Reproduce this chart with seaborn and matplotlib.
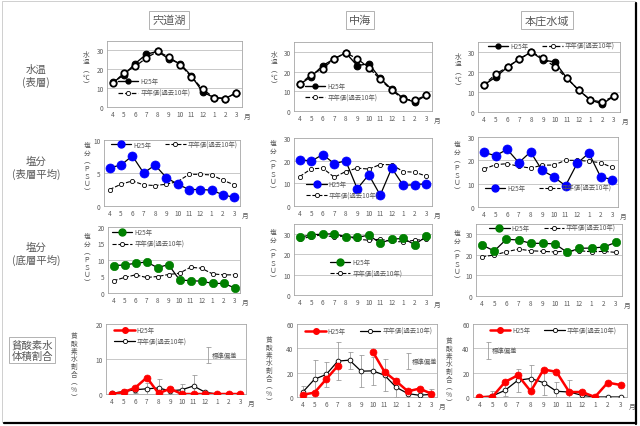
import numpy as np
import pandas as pd
import matplotlib
matplotlib.use('Agg')
import matplotlib.pyplot as plt
import seaborn as sns
from matplotlib.lines import Line2D
from matplotlib.patches import Rectangle

sns.set_theme(style='white')
plt.rcParams['font.family'] = ['Noto Sans CJK JP', 'DejaVu Sans']

# ---------------- data ----------------
months = ['4', '5', '6', '7', '8', '9', '10', '11', '12', '1', '2', '3']
areas = ['宍道湖', '中海', '本庄水域']
label_h25 = 'H25年'
label_avg = '平年値(過去10年)'

# water temperature (surface), deg C
temp_h25_shinji = [13, 17, 23, 28, 29.5, 25.5, 23, 16.5, 8, 5, 4.5, 7.5]
temp_avg_shinji = [12.5, 18, 21.5, 26, 29.5, 26.5, 22.5, 16, 9.5, 5, 4.5, 7.5]
temp_h25_naka = [13.5, 17.5, 23, 26.5, 29.5, 23, 24, 16.5, 11, 6.5, 4.5, 8]
temp_avg_naka = [13.5, 18.5, 21.5, 26.5, 29.5, 26.5, 22, 16, 10.5, 6, 5.5, 8]
temp_h25_honjo = [13.5, 17.5, 22.5, 26.5, 30, 26, 25, 17, 11, 6, 4, 8]
temp_avg_honjo = [13.5, 19, 22.5, 26.5, 30, 27, 22.5, 17, 11, 6, 5, 8]

# salinity (surface mean), PSU
sal_s_h25_shinji = [5.8, 6.2, 7.6, 5.0, 6.2, 4.3, 3.3, 2.5, 2.5, 2.4, 1.7, 1.3]
sal_s_avg_shinji = [2.5, 3.3, 3.8, 3.2, 3.1, 3.3, 3.7, 4.8, 4.8, 4.7, 3.9, 3.2]
sal_s_h25_naka = [20.5, 19.8, 22.7, 18.7, 19.9, 7.6, 13.8, 4.8, 16.7, 9.1, 9.4, 9.8]
sal_s_avg_naka = [13, 16.4, 16.7, 12.7, 15.2, 16.7, 16.3, 18.3, 18.2, 15.2, 14.9, 13.2]
sal_s_h25_honjo = [23.4, 22, 24.7, 19, 23.6, 15.7, 12.9, 9.1, 18.7, 23.1, 13, 11.7]
sal_s_avg_honjo = [16.3, 18.1, 18.6, 17.4, 16.7, 17.9, 18, 20, 20, 19.6, 19, 17]

# salinity (bottom mean), PSU
sal_b_h25_shinji = [8.3, 8.5, 9.0, 9.4, 7.7, 8.6, 4.0, 3.7, 3.6, 2.9, 2.9, 1.6]
sal_b_avg_shinji = [3.7, 4.7, 5.5, 4.7, 5.0, 5.6, 6.0, 7.8, 7.5, 5.8, 5.5, 5.5]
sal_b_h25_naka = [28.4, 29.7, 30, 30.2, 28.7, 28.4, 29.5, 25.6, 27.5, 27.9, 24.8, 28.9]
sal_b_avg_naka = [27.7, 28.7, 29.8, 28.4, 29.2, 27.5, 27, 27.5, 26.4, 26.2, 27, 27.5]
sal_b_h25_honjo = [24.8, 21.9, 27.6, 27.2, 25.6, 25.6, 25.3, 21.2, 23.2, 23.3, 23.8, 26.1]
sal_b_avg_honjo = [19.1, 19.9, 21.5, 22.8, 22, 21.7, 21.4, 22, 22, 21.5, 21.7, 21.2]

# hypoxic water volume ratio, %
hyp_h25_shinji = [0, 0.5, 1.8, 4.7, 0.2, 1.5, 0, 0, 0, 0, 0, 0]
hyp_avg_shinji = [0.2, 0.7, 1.2, 1.5, 1.7, 0.9, 1.2, 2.3, 0.5, 0, 0, 0]
hyp_sd_shinji = [0.2, 0.8, 1.0, 1.7, 2.5, 1.0, 1.6, 3.2, 0.5, 0, 0, 0]
hyp_h25_naka = [1.9, 3.6, 14.6, 25.6, np.nan, np.nan, 37.2, 20.7, 13, 4.7, 6.9, 2.8]
hyp_avg_naka = [4.1, 14.6, 18.5, 29.5, 30.3, 21.2, 21.5, 17.9, 8, 2.8, 1.4, 2.2]
hyp_sd_naka = [5, 15.7, 10.5, 15.5, 7, 13, 11.5, 13, 7.7, 4, 1.5, 4.7]
hyp_h25_honjo = [0, 0, 12.4, 17.9, 4.7, 22.6, 20.7, 4.1, 4.1, 0, 11.8, 9.9]
hyp_avg_honjo = [0, 0.8, 5.5, 13.8, 15.2, 11.8, 4.7, 4.1, 1.4, 0, 0, 0]
hyp_sd_honjo = [0, 3.9, 5, 9.6, 11.5, 10, 7.7, 9.7, 2, 0, 0, 0]

row_labels = ['水温\n(表層)', '塩分\n(表層平均)', '塩分\n(底層平均)', '貧酸素水\n体積割合']
ylabel_temp = '水\n温\n︵\n℃\n︶'
ylabel_sal = '塩\n分\n︵\nＰ\nＳ\nＵ\n︶'
ylabel_hyp = '貧\n酸\n素\n水\n割\n合\n︵\n%\n︶'
sd_label = '標準偏差'

# ---------------- layout ----------------
W, H = 640, 427
fig = plt.figure(figsize=(W / 100, H / 100), dpi=100)
fig.patch.set_facecolor('white')

TXT = '#595959'
GRID = '#bfbfbf'


def px_axes(l, t, r, b):
    return fig.add_axes([l / W, 1 - b / H, (r - l) / W, (b - t) / H])


def draw_series(ax, vals, color, mfc, mec, ms, lw, ls, mew, z):
    v = np.asarray(vals, dtype=float)
    x = np.arange(len(v))
    ok = ~np.isnan(v)
    # split into contiguous runs so that gaps stay gaps
    runs, cur = [], []
    for i in range(len(v)):
        if ok[i]:
            cur.append(i)
        elif cur:
            runs.append(cur)
            cur = []
    if cur:
        runs.append(cur)
    for r in runs:
        df = pd.DataFrame({'m': x[r], 'v': v[r]})
        sns.lineplot(data=df, x='m', y='v', ax=ax, color=color, lw=lw,
                     linestyle=ls, marker='o', markersize=ms,
                     markerfacecolor=mfc, markeredgecolor=mec,
                     markeredgewidth=mew, legend=False, zorder=z)


def style_axes(ax, ylim, ticks, grid):
    ax.set_xlim(-0.5, 11.5)
    ax.set_ylim(*ylim)
    ax.set_xticks(range(12))
    ax.set_xticklabels(months)
    ax.set_yticks(ticks)
    ax.set_xlabel('')
    ax.set_ylabel('')
    ax.tick_params(length=0, labelsize=4.6, colors=TXT, pad=2.5)
    for s in ax.spines.values():
        s.set_color('#a6a6a6')
        s.set_linewidth(0.6)
    for g in grid:
        ax.axhline(g, color=GRID, lw=0.6, zorder=0.5)
    ax.annotate('月', xy=(1, 0), xycoords='axes fraction', xytext=(1.5, -3.5),
                textcoords='offset points', ha='left', va='top',
                fontsize=4.8, color=TXT)


def add_legend(ax, handles, anchor, ncol):
    ax.legend(handles=handles, loc='upper left', bbox_to_anchor=anchor,
              ncol=ncol, frameon=False, fontsize=4.6, handlelength=3.2,
              handletextpad=0.3, labelspacing=0.55, columnspacing=2.2,
              borderaxespad=0, borderpad=0, labelcolor=TXT)


def ylab(ax, text, xc, yc):
    fig.text(xc / W, 1 - yc / H, text, ha='center', va='center',
             fontsize=4.8, color=TXT, linespacing=0.95)


rects = [
    [(107, 42, 242, 108), (294, 43, 432, 112), (478, 43, 620, 113)],
    [(104, 141, 240, 207), (294, 139, 432, 207), (478, 138, 618, 208)],
    [(108, 228, 240, 294), (294, 225, 432, 296), (476, 225, 622, 297)],
    [(106, 325, 246, 395), (297, 325, 437, 398), (473, 325, 627, 398)],
]
ylab_pos = [
    [(86, 70), (274, 70), (458, 72)],
    [(87, 169), (273, 167), (457, 168)],
    [(87, 260), (273, 256), (457, 257)],
    [(74, 367), (269, 371), (449, 372)],
]

# ----- row 1 : temperature -----
temp_sets = [(temp_h25_shinji, temp_avg_shinji), (temp_h25_naka, temp_avg_naka),
             (temp_h25_honjo, temp_avg_honjo)]
temp_leg = [((0.08, 0.45), 1), ((0.08, 0.42), 1), ((0.07, 1.0), 2)]
for c in range(3):
    ax = px_axes(*rects[0][c])
    h, a = temp_sets[c]
    draw_series(ax, h, 'black', 'black', 'black', 4.8, 1.0, '-', 0.8, 3)
    draw_series(ax, a, 'black', 'white', 'black', 4.6, 0.9, '--', 1.3, 4)
    style_axes(ax, (0, 35), [0, 10, 20, 30], [10, 20, 30])
    hs = [Line2D([], [], color='black', lw=1, marker='o', ms=3.5, mfc='black', mec='black'),
          Line2D([], [], color='black', lw=0.9, ls='--', marker='o', ms=3, mfc='white', mec='black', mew=0.6)]
    hs[0].set_label(label_h25)
    hs[1].set_label(label_avg)
    add_legend(ax, hs, *temp_leg[c])
    ylab(ax, ylabel_temp, *ylab_pos[0][c])

# ----- row 2 : surface salinity -----
sal_s_sets = [(sal_s_h25_shinji, sal_s_avg_shinji), (sal_s_h25_naka, sal_s_avg_naka),
              (sal_s_h25_honjo, sal_s_avg_honjo)]
sal_s_lim = [((0, 10), [0, 5, 10], [5]), ((0, 30), [0, 10, 20, 30], [10, 20]),
             ((0, 30), [0, 10, 20, 30], [10, 20])]
sal_s_leg = [((0.05, 0.99), 2), ((0.09, 0.38), 1), ((0.05, 0.33), 2)]
blue = '#0000ff'
for c in range(3):
    ax = px_axes(*rects[1][c])
    h, a = sal_s_sets[c]
    draw_series(ax, a, 'black', 'white', 'black', 3.0, 0.8, '--', 0.6, 3)
    draw_series(ax, h, 'black', blue, blue, 6.5, 0.9, '-', 0.5, 4)
    style_axes(ax, *sal_s_lim[c])
    hs = [Line2D([], [], color='black', lw=0.9, marker='o', ms=5, mfc=blue, mec=blue, label=label_h25),
          Line2D([], [], color='black', lw=0.8, ls='--', marker='o', ms=3, mfc='white', mec='black', mew=0.6, label=label_avg)]
    add_legend(ax, hs, *sal_s_leg[c])
    ylab(ax, ylabel_sal, *ylab_pos[1][c])

# ----- row 3 : bottom salinity -----
sal_b_sets = [(sal_b_h25_shinji, sal_b_avg_shinji), (sal_b_h25_naka, sal_b_avg_naka),
              (sal_b_h25_honjo, sal_b_avg_honjo)]
sal_b_lim = [((0, 20), [0, 5, 10, 15, 20], [10]), ((0, 35), [0, 10, 20, 30], [10, 20, 30]),
             ((0, 35), [0, 10, 20, 30], [10, 20, 30])]
sal_b_leg = [((0.03, 0.98), 1), ((0.26, 0.52), 1), ((0.09, 1.0), 2)]
green = '#008000'
for c in range(3):
    ax = px_axes(*rects[2][c])
    h, a = sal_b_sets[c]
    draw_series(ax, a, 'black', 'white', 'black', 3.0, 0.8, '--', 0.6, 3)
    draw_series(ax, h, 'black', green, green, 6.0, 0.9, '-', 0.5, 4)
    style_axes(ax, *sal_b_lim[c])
    hs = [Line2D([], [], color='black', lw=0.9, marker='o', ms=5, mfc=green, mec=green, label=label_h25),
          Line2D([], [], color='black', lw=0.8, ls='--', marker='o', ms=3, mfc='white', mec='black', mew=0.6, label=label_avg)]
    add_legend(ax, hs, *sal_b_leg[c])
    ylab(ax, ylabel_sal, *ylab_pos[2][c])

# ----- row 4 : hypoxic water -----
hyp_sets = [(hyp_h25_shinji, hyp_avg_shinji, hyp_sd_shinji),
            (hyp_h25_naka, hyp_avg_naka, hyp_sd_naka),
            (hyp_h25_honjo, hyp_avg_honjo, hyp_sd_honjo)]
hyp_lim = [((0, 20), [0, 10, 20], [10]), ((0, 60), [0, 20, 40, 60], [20, 40]),
           ((0, 60), [0, 20, 40, 60], [20, 40])]
hyp_leg = [((0.06, 0.97), 1), ((0.06, 0.96), 2), ((0.11, 0.97), 2)]
sd_key = [(8.25, 8.8, 13.5), (9.0, 23.0, 36.5), (0.7, 31.5, 45.0)]
red = '#ff0000'
for c in range(3):
    ax = px_axes(*rects[3][c])
    h, a, sd = hyp_sets[c]
    xs = np.arange(12)
    ax.errorbar(xs, a, yerr=sd, fmt='none', ecolor='#8c8c8c', elinewidth=0.5,
                capsize=1.8, capthick=0.5, zorder=2)
    draw_series(ax, a, 'black', 'white', 'black', 3.4, 0.9, '-', 0.6, 3)
    draw_series(ax, h, red, red, red, 5.0, 1.8, '-', 0.5, 4)
    style_axes(ax, *hyp_lim[c])
    hs = [Line2D([], [], color=red, lw=1.8, marker='o', ms=4, mfc=red, mec=red, label=label_h25),
          Line2D([], [], color='black', lw=0.9, marker='o', ms=3, mfc='white', mec='black', mew=0.6, label=label_avg)]
    add_legend(ax, hs, *hyp_leg[c])
    kx, klo, khi = sd_key[c]
    ax.errorbar([kx], [(klo + khi) / 2], yerr=[(khi - klo) / 2], fmt='none',
                ecolor='#8c8c8c', elinewidth=0.5, capsize=1.8, capthick=0.5)
    ax.text(kx + 0.3, (klo + khi) / 2, sd_label, ha='left', va='center',
            fontsize=4.6, color=TXT)
    ylab(ax, ylabel_hyp, *ylab_pos[3][c])

# ----- headers and row labels -----
head_x = [169, 360, 547]
for name, xc in zip(areas, head_x):
    fig.text(xc / W, 1 - 21 / H, name, ha='center', va='center', fontsize=8,
             color=TXT, bbox=dict(boxstyle='square,pad=0.3', fc='white',
                                  ec='#a6a6a6', lw=0.6))

row_pos = [(36, 76), (36, 168), (36, 254)]
for txt, (xc, yc) in zip(row_labels[:3], row_pos):
    fig.text(xc / W, 1 - yc / H, txt, ha='center', va='center', fontsize=7.5,
             color=TXT, linespacing=1.2)
fig.text(32 / W, 1 - 351 / H, row_labels[3], ha='center', va='center',
         fontsize=7.5, color=TXT, linespacing=1.15,
         bbox=dict(boxstyle='square,pad=0.25', fc='white', ec='#a6a6a6', lw=0.6))

# outer frame with shadow
fig.add_artist(Rectangle((1.5 / W, 4.5 / H), 633 / W, 421 / H, transform=fig.transFigure,
                         fill=False, ec='#c8c8c8', lw=0.6))
fig.add_artist(Line2D([636 / W, 636 / W], [2 / H, 1 - 4 / H], transform=fig.transFigure,
                      color='black', lw=1.6))
fig.add_artist(Line2D([4 / W, 636 / W], [3 / H, 3 / H], transform=fig.transFigure,
                      color='black', lw=1.6))

fig.savefig('out.png', dpi=100, facecolor='white')
